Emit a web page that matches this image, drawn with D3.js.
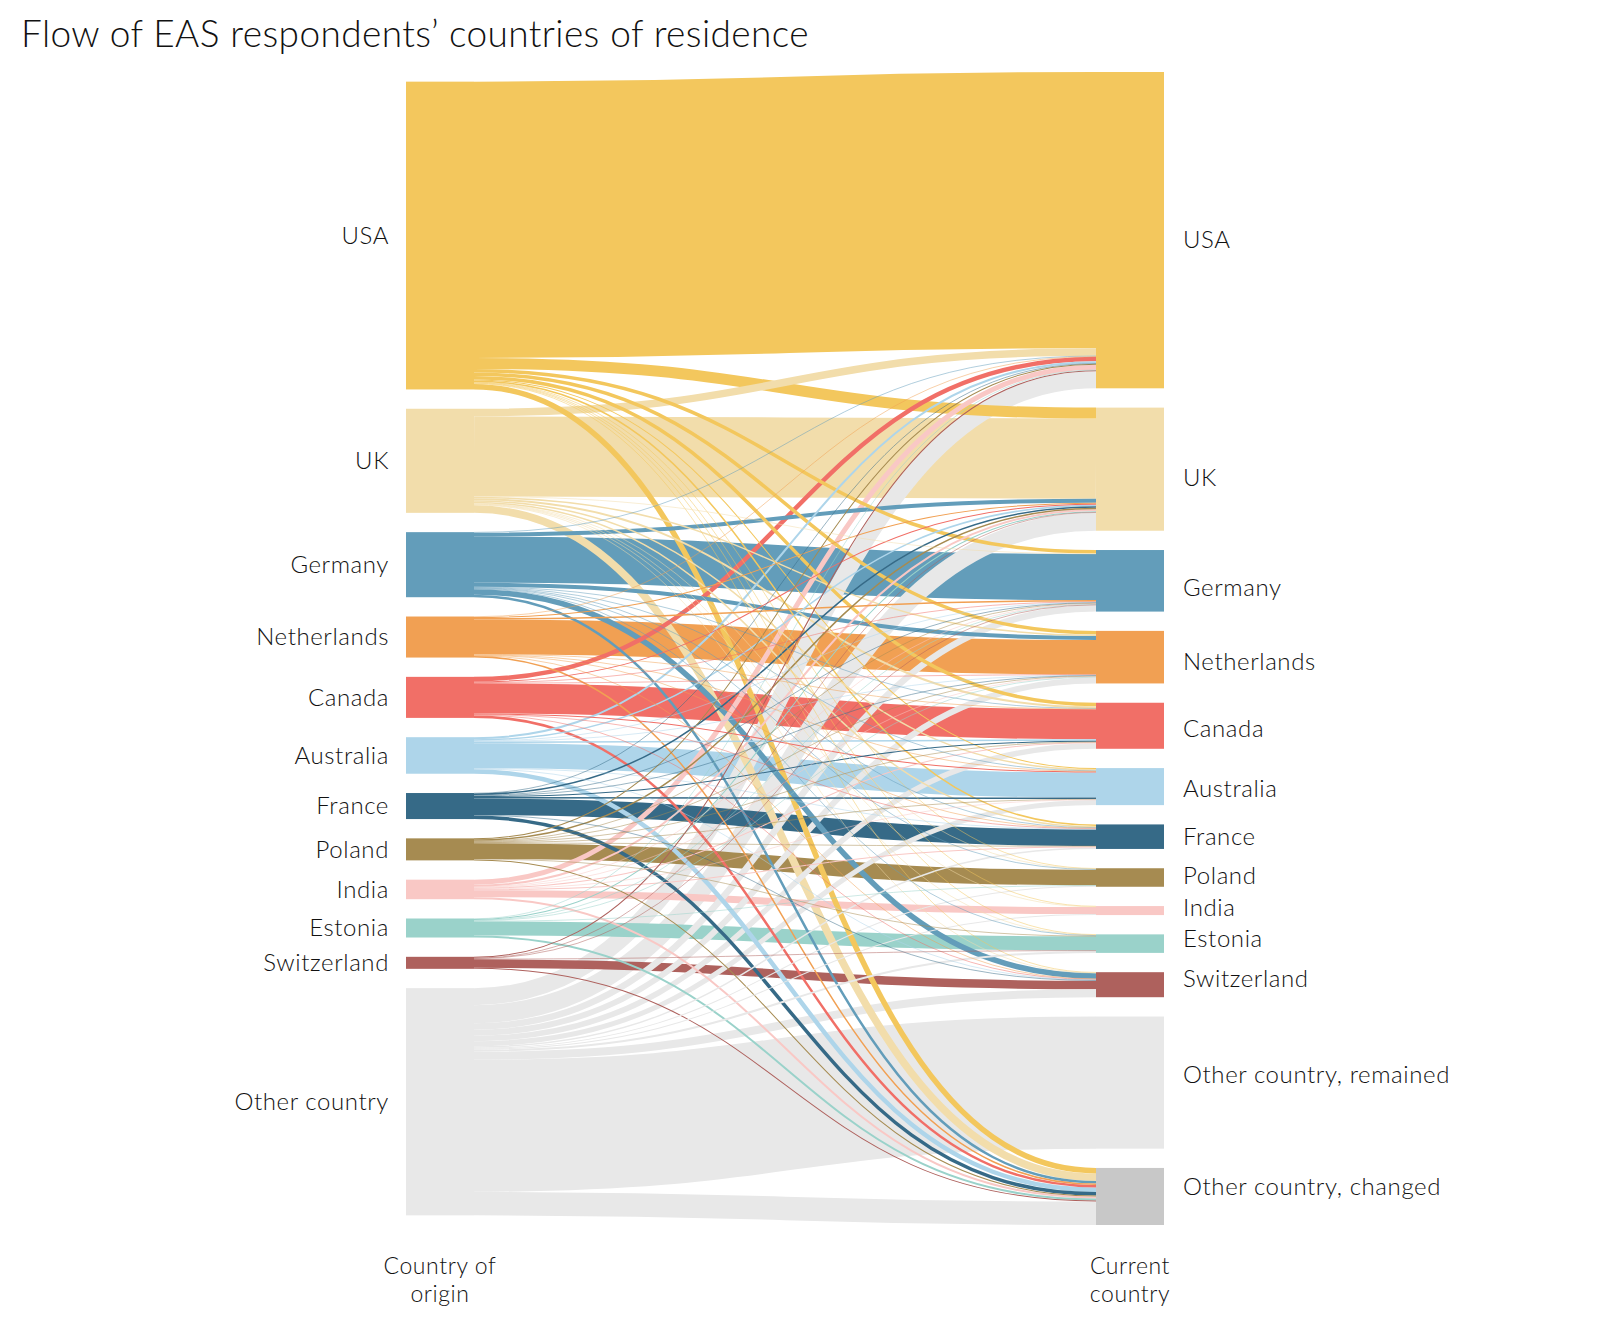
<!DOCTYPE html>
<html>
<head>
<meta charset="utf-8">
<script src="https://cdn.jsdelivr.net/npm/d3@7"></script>
<style>
  body { margin: 0; background: #ffffff; }
  svg text { font-family: Lato, "Noto Sans", sans-serif; fill: #111; font-weight: 300; }
</style>
</head>
<body>
<svg id="chart" width="1600" height="1334"></svg>
<script>
// ---------- DATA ----------
const origins = ["USA", "UK", "Germany", "Netherlands", "Canada", "Australia", "France",
  "Poland", "India", "Estonia", "Switzerland", "Other country"];
const destinations = ["USA", "UK", "Germany", "Netherlands", "Canada", "Australia", "France",
  "Poland", "India", "Estonia", "Switzerland", "Other country, remained", "Other country, changed"];

// respondents moving from each origin to each destination (destination order as above)
const fromUSA         = [552,  22,   7,   7,   7,   2,   3,   1,   1,   1,   1,   0,  11];
const fromUK          = [ 15, 160,   1,   3,   4,   3,   3,   1,   1,   1,   1,   0,  15];
const fromGermany     = [  1,   8,  92,   8,   1,   1,   1,   1,   0,   1,  11,   0,   5];
const fromNetherlands = [  1,   2,   3,  69,   1,   1,   1,   0,   0,   0,   1,   0,   3];
const fromCanada      = [  9,   2,   1,   1,  60,   2,   1,   0,   0,   0,   1,   0,   5];
const fromAustralia   = [  4,   3,   1,   1,   3,  50,   1,   0,   0,   0,   1,   0,   9];
const fromFrance      = [  1,   3,   1,   1,   2,   3,  33,   0,   0,   0,   1,   0,   7];
const fromPoland      = [  2,   3,   1,   1,   1,   1,   1,  31,   0,   1,   0,   0,   2];
const fromIndia       = [ 10,   4,   1,   1,   2,   1,   2,   0,  14,   0,   0,   0,   4];
const fromEstonia     = [  1,   2,   1,   1,   0,   0,   0,   1,   0,  28,   0,   0,   4];
const fromSwitzerland = [  2,   1,   1,   0,   0,   0,   0,   0,   0,   1,  17,   0,   2];
const fromOther       = [ 34,  36,  13,  12,  11,  10,   3,   2,   2,   4,  16, 264,  47];

const originColors = ["#F3C75D", "#F2DDAB", "#639DBA", "#F1A053", "#F16F67", "#AED5EA",
  "#366A87", "#A68B51", "#F9C8C5", "#9AD2CA", "#AE615D", "#E8E8E8"];
const destinationColors = ["#F3C75D", "#F2DDAB", "#639DBA", "#F1A053", "#F16F67", "#AED5EA",
  "#366A87", "#A68B51", "#F9C8C5", "#9AD2CA", "#AE615D", "#E8E8E8", "#C8C8C8"];

const title = "Flow of EAS respondents\u2019 countries of residence";
const columnTitles = [["Country of", "origin"], ["Current", "country"]];

// ---------- LAYOUT ----------
const flowRows = [fromUSA, fromUK, fromGermany, fromNetherlands, fromCanada, fromAustralia,
  fromFrance, fromPoland, fromIndia, fromEstonia, fromSwitzerland, fromOther];

const svg = d3.select("#chart");
const yTop = 72, yBottom = 1225, pad = 19.3, nodeW = 68;

const colX = d3.scalePoint().domain(["origin", "current"]).range([406, 1096]);

const total = d3.sum(flowRows, r => d3.sum(r));
const ky = d3.scaleLinear().domain([0, total])
  .range([0, (yBottom - yTop) - (destinations.length - 1) * pad]);

const originTotals = flowRows.map(r => d3.sum(r));
const destTotals = destinations.map((_, j) => d3.sum(flowRows, r => r[j]));

function stack(names, values, padding, top) {
  let y = top;
  return names.map((name, i) => {
    const h = ky(values[i]);
    const node = { name, y0: y, y1: y + h };
    y += h + padding;
    return node;
  });
}

const rightNodes = stack(destinations, destTotals, pad, yTop);
const leftSpan = ky(total) + (origins.length - 1) * pad;
const leftTop = (yTop + yBottom) / 2 - leftSpan / 2;
const leftNodes = stack(origins, originTotals, pad, leftTop);
const labelPad = (leftSpan - ky(total)) / (destinations.length - 1);
const rightLabelNodes = stack(destinations, destTotals, labelPad, leftTop);

const xL0 = colX("origin"), xL1 = xL0 + nodeW;
const xR0 = colX("current"), xR1 = xR0 + nodeW;

const outOff = leftNodes.map(n => n.y0);
const inOff = rightNodes.map(n => n.y0);
const links = [];
flowRows.forEach((row, i) => {
  row.forEach((v, j) => {
    if (v <= 0) return;
    const w = ky(v);
    links.push({ i, j, v, w, y0: outOff[i] + w / 2, y1: inOff[j] + w / 2 });
    outOff[i] += w;
    inOff[j] += w;
  });
});
// larger flows underneath, smaller flows drawn on top
links.sort((a, b) => b.v - a.v);

const linkGen = d3.linkHorizontal();

svg.append("g").attr("fill", "none")
  .selectAll("path").data(links).join("path")
  .attr("d", d => linkGen({ source: [xL1, d.y0], target: [xR0, d.y1] }))
  .attr("stroke", d => originColors[d.i])
  .attr("stroke-width", d => Math.max(0.4, d.w));

svg.append("g").selectAll("rect").data(leftNodes).join("rect")
  .attr("x", xL0).attr("width", nodeW)
  .attr("y", d => d.y0).attr("height", d => d.y1 - d.y0)
  .attr("fill", (d, i) => originColors[i]);

svg.append("g").selectAll("rect").data(rightNodes).join("rect")
  .attr("x", xR0).attr("width", nodeW)
  .attr("y", d => d.y0).attr("height", d => d.y1 - d.y0)
  .attr("fill", (d, i) => destinationColors[i]);

// labels
const labelSize = 24, labelSpacing = "0.6px";
svg.append("g").selectAll("text").data(leftNodes).join("text")
  .attr("x", xL0 - 17).attr("y", d => (d.y0 + d.y1) / 2).attr("dy", "0.35em")
  .attr("text-anchor", "end").attr("font-size", labelSize).attr("letter-spacing", labelSpacing)
  .text(d => d.name);

svg.append("g").selectAll("text").data(rightLabelNodes).join("text")
  .attr("x", xR1 + 19).attr("y", d => (d.y0 + d.y1) / 2).attr("dy", "0.35em")
  .attr("text-anchor", "start").attr("font-size", labelSize).attr("letter-spacing", labelSpacing)
  .text(d => d.name);

// column titles
const colKeys = ["origin", "current"];
colKeys.forEach((k, ci) => {
  columnTitles[ci].forEach((line, li) => {
    svg.append("text").attr("text-anchor", "middle").attr("font-size", 23)
      .attr("letter-spacing", labelSpacing)
      .attr("x", colX(k) + nodeW / 2).attr("y", 1274 + li * 28)
      .text(line);
  });
});

// title
svg.append("text").attr("x", 21).attr("y", 47).attr("font-size", 37)
  .attr("letter-spacing", "0.4px")
  .text(title);
</script>
</body>
</html>
